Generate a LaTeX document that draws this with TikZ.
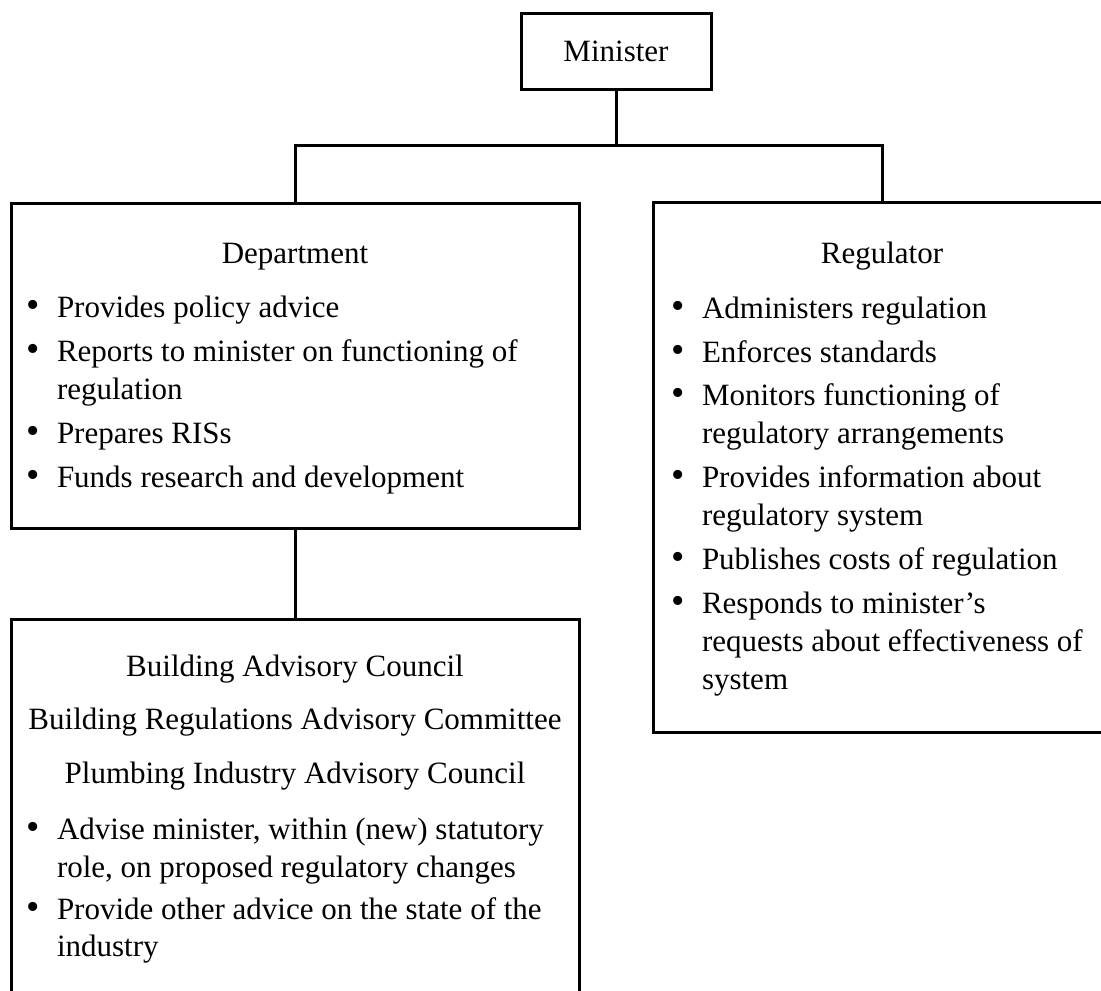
\documentclass[tikz,border=0pt]{standalone}
\usepackage{fontspec}
\setmainfont{Liberation Serif}
% hanging bullet set slightly larger than the text
\newcommand\itembullet{\llap{{\fontsize{38}{38}\selectfont\textbullet}\hspace{17pt}}}
\begin{document}
\begin{tikzpicture}[x=1pt, y=-1pt,
  box/.style={draw=black, line width=3pt, outer sep=0pt, inner sep=0pt, rectangle},
  txt/.style={inner sep=0pt, outer sep=0pt, text=black, font=\fontsize{31}{38}\selectfont},
  head/.style={txt, anchor=base},
  entry/.style={txt, anchor=base west},
  link/.style={draw=black, line width=3pt, line join=miter}]
\useasboundingbox (0,0) rectangle (1101,991);

% boxes
\node[box, anchor=north west, minimum width=190, minimum height=76] (minister) at (521,13) {};
\node[box, anchor=north west, minimum width=568, minimum height=325] (dept) at (11,203) {};
\node[box, anchor=north west, minimum width=458, minimum height=530] (reg) at (653,202) {};
\node[box, anchor=north west, minimum width=568, minimum height=400] (council) at (11,619) {};

% connectors
\coordinate (bar) at (616,145);
\draw[link] (minister.south) -- (minister.south |- bar);
\draw[link] (dept.north) -- (dept.north |- bar) -- (reg.north |- bar) -- (reg.north);
\draw[link] (dept.south) -- (council.north);

% Minister
\node[head] (t-min) at (616,61) {Minister};

% Department
\node[head]  (t-dep)  at (295,263) {Department};
\node[entry] (t-dep1) at (57,317) {\itembullet Provides policy advice};
\node[entry] (t-dep2) at (57,361) {\itembullet Reports to minister on functioning of};
\node[entry] (t-dep3) at (57,399) {regulation};
\node[entry] (t-dep4) at (57,443) {\itembullet Prepares RISs};
\node[entry] (t-dep5) at (57,487) {\itembullet Funds research and development};

% Regulator
\node[head]  (t-reg)   at (882,263) {Regulator};
\node[entry] (t-reg1)  at (702,318) {\itembullet Administers regulation};
\node[entry] (t-reg2)  at (702,362) {\itembullet Enforces standards};
\node[entry] (t-reg3)  at (702,405) {\itembullet Monitors functioning of};
\node[entry] (t-reg4)  at (702,443) {regulatory arrangements};
\node[entry] (t-reg5)  at (702,487) {\itembullet Provides information about};
\node[entry] (t-reg6)  at (702,525) {regulatory system};
\node[entry] (t-reg7)  at (702,569) {\itembullet Publishes costs of regulation};
\node[entry] (t-reg8)  at (702,613) {\itembullet Responds to minister’s};
\node[entry] (t-reg9)  at (702,651) {requests about effectiveness of};
\node[entry] (t-reg10) at (702,689) {system};

% Advisory bodies
\node[head]  (t-adv1) at (295,676) {Building Advisory Council};
\node[head]  (t-adv2) at (295,729) {Building Regulations Advisory Committee};
\node[head]  (t-adv3) at (295,783) {Plumbing Industry Advisory Council};
\node[entry] (t-adv4) at (57,839) {\itembullet Advise minister, within (new) statutory};
\node[entry] (t-adv5) at (57,877) {role, on proposed regulatory changes};
\node[entry] (t-adv6) at (57,919) {\itembullet Provide other advice on the state of the};
\node[entry] (t-adv7) at (57,956) {industry};
\end{tikzpicture}
\end{document}
